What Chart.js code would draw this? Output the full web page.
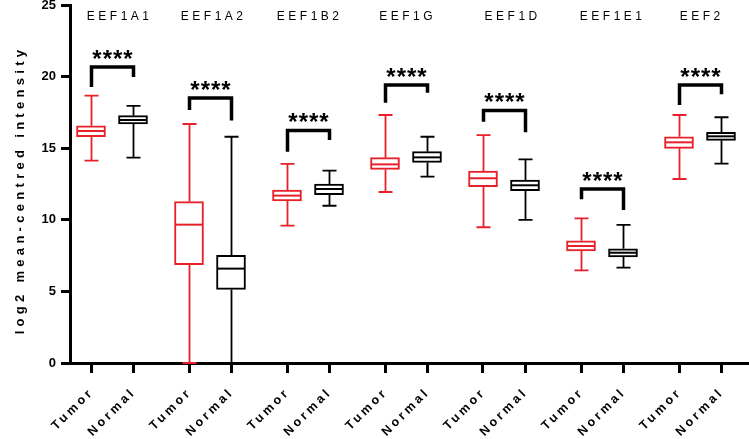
<!DOCTYPE html>
<html>
<head>
<meta charset="utf-8">
<script src="https://cdn.jsdelivr.net/npm/chart.js@4"></script>
<style>
  html, body { margin: 0; padding: 0; background: #fff; }
</style>
</head>
<body>
<canvas id="chart" width="749" height="439"></canvas>
<script>
// ---- data ----
const genes = ["EEF1A1", "EEF1A2", "EEF1B2", "EEF1G", "EEF1D", "EEF1E1", "EEF2"];
const groupLabels = ["Tumor", "Normal"];
const yTicks = [0, 5, 10, 15, 20, 25];

const tumorMin = [14.13, 0, 9.59, 11.94, 9.48, 6.47, 12.85];
const tumorQ1  = [15.80, 6.87, 11.31, 13.52, 12.31, 7.82, 14.99];
const tumorMed = [16.20, 9.66, 11.69, 13.87, 12.90, 8.17, 15.41];
const tumorQ3  = [16.57, 11.27, 12.08, 14.34, 13.41, 8.54, 15.80];
const tumorMax = [18.67, 16.69, 13.90, 17.32, 15.92, 10.10, 17.32];

const normalMin = [14.34, 0, 10.98, 13.01, 9.99, 6.66, 13.92];
const normalQ1  = [16.69, 5.14, 11.75, 14.01, 12.03, 7.40, 15.55];
const normalMed = [16.97, 6.59, 12.15, 14.36, 12.41, 7.70, 15.83];
const normalQ3  = [17.27, 7.52, 12.50, 14.76, 12.78, 7.98, 16.11];
const normalMax = [17.95, 15.80, 13.43, 15.80, 14.22, 9.64, 17.16];

// significance brackets: bar height, left leg end, right leg end
const sigTop   = [20.67, 18.50, 16.24, 19.41, 17.63, 12.15, 19.41];
const sigLeft  = [19.27, 17.67, 14.76, 18.18, 16.85, 11.43, 18.02];
const sigRight = [19.97, 16.93, 15.57, 18.88, 16.11, 10.68, 18.76];
const sigText  = ["****", "****", "****", "****", "****", "****", "****"];

// ---- layout ----
const RED = "#e8202a";
const BLACK = "#000";
const FONT = "'Liberation Sans', Arial, sans-serif";
const tumorX = genes.map((g, i) => 7 * i);
const normalX = genes.map((g, i) => 7 * i + 3);
const tickPos = genes.flatMap((g, i) => [tumorX[i], normalX[i]]);
const titleNudge = [6, 2, 0, 0, 7, 9, 0];
const BOX_W = 29, CAP_W = 14;

const series = [
  { x: tumorX, min: tumorMin, q1: tumorQ1, med: tumorMed, q3: tumorQ3, max: tumorMax, color: RED },
  { x: normalX, min: normalMin, q1: normalQ1, med: normalMed, q3: normalQ3, max: normalMax, color: BLACK }
];

const boxPlugin = {
  id: "boxExtras",
  beforeDatasetsDraw(chart) {
    const { ctx, scales: { x, y } } = chart;
    ctx.save();
    ctx.lineWidth = 1.8;
    series.forEach(s => {
      ctx.strokeStyle = s.color;
      s.x.forEach((pos, i) => {
        const px = Math.round(x.getPixelForValue(pos)) + 0.5;
        const yMin = y.getPixelForValue(s.min[i]), yMax = y.getPixelForValue(s.max[i]);
        ctx.beginPath();
        ctx.moveTo(px, yMin); ctx.lineTo(px, y.getPixelForValue(s.q1[i]));
        ctx.moveTo(px, y.getPixelForValue(s.q3[i])); ctx.lineTo(px, yMax);
        ctx.moveTo(px - CAP_W / 2, yMin); ctx.lineTo(px + CAP_W / 2, yMin);
        ctx.moveTo(px - CAP_W / 2, yMax); ctx.lineTo(px + CAP_W / 2, yMax);
        ctx.stroke();
      });
    });
    ctx.restore();
  },
  afterDatasetsDraw(chart) {
    const { ctx, scales: { x, y } } = chart;
    ctx.save();
    // medians
    ctx.lineWidth = 2;
    series.forEach(s => {
      ctx.strokeStyle = s.color;
      s.x.forEach((pos, i) => {
        const px = Math.round(x.getPixelForValue(pos)) + 0.5;
        const py = y.getPixelForValue(s.med[i]);
        ctx.beginPath();
        ctx.moveTo(px - BOX_W / 2 + 1, py); ctx.lineTo(px + BOX_W / 2 - 1, py);
        ctx.stroke();
      });
    });

    // brackets + stars
    ctx.strokeStyle = BLACK;
    ctx.fillStyle = BLACK;
    ctx.lineWidth = 3.5;
    ctx.lineJoin = "miter";
    ctx.textAlign = "center";
    ctx.textBaseline = "middle";
    genes.forEach((g, i) => {
      const xl = Math.round(x.getPixelForValue(tumorX[i])) + 0.5;
      const xr = Math.round(x.getPixelForValue(normalX[i])) + 0.5;
      const yt = y.getPixelForValue(sigTop[i]);
      ctx.beginPath();
      ctx.moveTo(xl, y.getPixelForValue(sigLeft[i]));
      ctx.lineTo(xl, yt);
      ctx.lineTo(xr, yt);
      ctx.lineTo(xr, y.getPixelForValue(sigRight[i]));
      ctx.stroke();
      ctx.font = "bold 24px " + FONT;
      ctx.letterSpacing = "1px";
      ctx.fillText(sigText[i], (xl + xr) / 2 + 0.5, yt - 7);
    });

    // gene titles
    ctx.font = "12px " + FONT;
    ctx.letterSpacing = "3.5px";
    genes.forEach((g, i) => {
      const cx = (x.getPixelForValue(tumorX[i]) + x.getPixelForValue(normalX[i])) / 2;
      ctx.fillText(g, cx + titleNudge[i] + 1.7, 17);
    });

    // rotated x labels
    ctx.font = "bold 12.5px " + FONT;
    ctx.letterSpacing = "3.2px";
    ctx.textAlign = "right";
    const yBase = y.getPixelForValue(0);
    tickPos.forEach((pos, k) => {
      const px = x.getPixelForValue(pos);
      ctx.save();
      ctx.translate(px + 1, yBase + 27);
      ctx.rotate(-Math.PI / 4);
      ctx.fillText(groupLabels[k % 2], 0, 0);
      ctx.restore();
    });

    // y title
    ctx.font = "bold 13px " + FONT;
    ctx.letterSpacing = "4.3px";
    ctx.textAlign = "center";
    ctx.save();
    ctx.translate(20, 190);
    ctx.rotate(-Math.PI / 2);
    ctx.fillText("log2 mean-centred intensity", 0, 0);
    ctx.restore();
    ctx.restore();
  }
};

const makeBars = s => ({
  type: "bar",
  data: s.x.map((pos, i) => ({ x: pos, y: [s.q1[i], s.q3[i]] })),
  backgroundColor: "#fff",
  borderColor: s.color,
  borderWidth: 2,
  borderSkipped: false,
  barThickness: BOX_W,
  grouped: false
});

new Chart(document.getElementById("chart"), {
  type: "bar",
  data: {
    datasets: [
      Object.assign(makeBars(series[0]), { label: groupLabels[0] }),
      Object.assign(makeBars(series[1]), { label: groupLabels[1] })
    ]
  },
  options: {
    responsive: false,
    animation: false,
    devicePixelRatio: 1,
    layout: { padding: { top: 5, right: 0, left: 0, bottom: 0 } },
    plugins: { legend: { display: false }, tooltip: { enabled: false } },
    scales: {
      x: {
        type: "linear",
        offset: false,
        min: -1.5,
        max: 47,
        afterBuildTicks: s => { s.ticks = tickPos.map(v => ({ value: v })); },
        afterFit: s => { s.height = 76; s.paddingLeft = 0; s.paddingRight = 0; },
        ticks: { display: false },
        grid: { offset: false, drawOnChartArea: false, drawTicks: true, tickLength: 10, tickWidth: 3, tickColor: BLACK },
        border: { color: BLACK, width: 3 }
      },
      y: {
        min: 0,
        max: 25,
        afterBuildTicks: s => { s.ticks = yTicks.map(v => ({ value: v })); },
        afterFit: s => { s.width = 70; s.paddingTop = 0; s.paddingBottom = 0; },
        ticks: { color: BLACK, font: { family: FONT, size: 13, weight: "bold" }, padding: 5 },
        grid: { drawOnChartArea: false, drawTicks: true, tickLength: 9, tickWidth: 3, tickColor: BLACK },
        border: { color: BLACK, width: 3 }
      }
    }
  },
  plugins: [boxPlugin]
});
</script>
</body>
</html>
